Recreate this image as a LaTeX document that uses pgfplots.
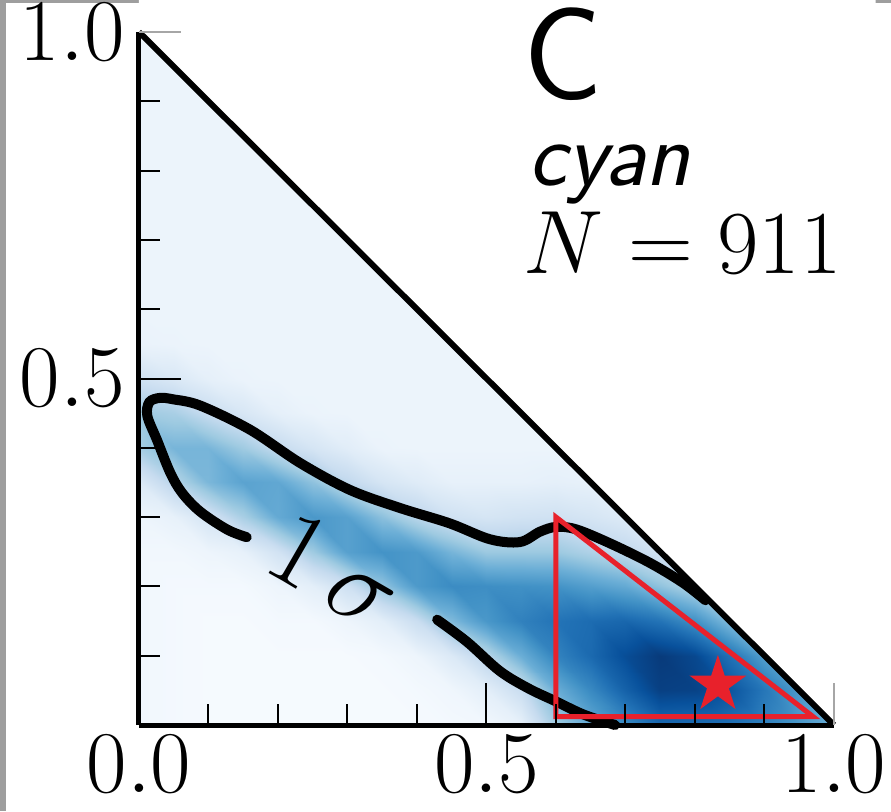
\RequirePackage{fix-cm}
\documentclass[border=0pt]{standalone}
\usepackage{pgfplots}
\pgfplotsset{compat=1.18}
\definecolor{bord}{RGB}{158,158,158}
\definecolor{myred}{RGB}{232,33,43}
\pgfdeclareplotmark{fstar}{%
 \pgfpathmoveto{\pgfpointpolar{90}{\pgfplotmarksize}}%
 \pgfpathlineto{\pgfpointpolar{126}{0.382\pgfplotmarksize}}%
 \pgfpathlineto{\pgfpointpolar{162}{\pgfplotmarksize}}%
 \pgfpathlineto{\pgfpointpolar{198}{0.382\pgfplotmarksize}}%
 \pgfpathlineto{\pgfpointpolar{234}{\pgfplotmarksize}}%
 \pgfpathlineto{\pgfpointpolar{270}{0.382\pgfplotmarksize}}%
 \pgfpathlineto{\pgfpointpolar{306}{\pgfplotmarksize}}%
 \pgfpathlineto{\pgfpointpolar{342}{0.382\pgfplotmarksize}}%
 \pgfpathlineto{\pgfpointpolar{18}{\pgfplotmarksize}}%
 \pgfpathlineto{\pgfpointpolar{54}{0.382\pgfplotmarksize}}%
 \pgfpathclose
 \pgfusepathqfill
}
\begin{document}
\begin{tikzpicture}
\useasboundingbox (-69.5pt,-43pt) rectangle (376pt,362.5pt);
\fill[bord] (-69.5pt,-43pt) rectangle (376pt,362.5pt);
\fill[white] (-66.5pt,-43pt) rectangle (376pt,361pt);
\begin{axis}[
  at={(0,0)}, anchor=south west,
  scale only axis, width=347.5pt, height=346.5pt,
  xmin=0, xmax=1, ymin=0, ymax=1,
  axis lines*=left,
  axis line style={line width=2.5pt, black},
  axis on top,
  clip=false,
  tick align=inside,
  xtick={0,0.5}, xticklabels={$0.0$,$0.5$},
  ytick={0.5}, yticklabels={$0.5$},
  extra x ticks={1}, extra x tick labels={$1.0$},
  extra y ticks={1}, extra y tick labels={$1.0$},
  extra x tick style={major tick style={draw=black!35, line width=0.6pt}},
  extra y tick style={major tick style={draw=black!35, line width=0.6pt}},
  minor xtick={0.1,0.2,0.3,0.4,0.6,0.7,0.8,0.9},
  minor ytick={0.1,0.2,0.3,0.4,0.6,0.7,0.8,0.9},
  major tick length=21pt, minor tick length=10.5pt,
  tick style={black, line width=1pt},
  every tick label/.append style={font=\fontsize{44}{50}\selectfont, inner sep=0pt},
  xticklabel style={yshift=-5pt},
  yticklabel style={xshift=-7pt},
  colormap={blues}{rgb255(0)=(247,251,255) rgb255(1)=(222,235,247) rgb255(2)=(198,219,239) rgb255(3)=(158,202,225) rgb255(4)=(107,174,214) rgb255(5)=(66,146,198) rgb255(6)=(33,113,181) rgb255(7)=(8,81,156) rgb255(8)=(8,48,107)},
  point meta min=0, point meta max=1,
]
\addplot[surf, shader=interp, mesh/rows=21, mesh/cols=21, mesh/ordering=y varies, point meta=explicit]
 table[row sep=\\, x=x, y=y, meta=v] {
x y v\\
0 0 .03\\ 0 0.05 .03\\ 0 0.1 .03\\ 0 0.15 .03\\ 0 0.2 .03\\ 0 0.25 .03\\ 0 0.3 .05\\ 0 0.35 .14\\ 0 0.4 .35\\ 0 0.45 .37\\ 0 0.5 .20\\ 0 0.55 .07\\ 0 0.6 .055\\ 0 0.65 .055\\ 0 0.7 .055\\ 0 0.75 .055\\ 0 0.8 .055\\ 0 0.85 .055\\ 0 0.9 .055\\ 0 0.95 .055\\ 0 1 .055\\
0.05 0 .02\\ 0.05 0.05 .02\\ 0.05 0.1 .02\\ 0.05 0.15 .02\\ 0.05 0.2 .02\\ 0.05 0.25 .03\\ 0.05 0.3 .08\\ 0.05 0.35 .30\\ 0.05 0.4 .47\\ 0.05 0.45 .34\\ 0.05 0.5 .15\\ 0.05 0.55 .06\\ 0.05 0.6 .055\\ 0.05 0.65 .055\\ 0.05 0.7 .055\\ 0.05 0.75 .055\\ 0.05 0.8 .055\\ 0.05 0.85 .055\\ 0.05 0.9 .055\\ 0.05 0.95 .055\\ 0.05 1 .055\\
0.1 0 .01\\ 0.1 0.05 .01\\ 0.1 0.1 .01\\ 0.1 0.15 .01\\ 0.1 0.2 .02\\ 0.1 0.25 .05\\ 0.1 0.3 .18\\ 0.1 0.35 .46\\ 0.1 0.4 .47\\ 0.1 0.45 .24\\ 0.1 0.5 .09\\ 0.1 0.55 .055\\ 0.1 0.6 .055\\ 0.1 0.65 .055\\ 0.1 0.7 .055\\ 0.1 0.75 .055\\ 0.1 0.8 .055\\ 0.1 0.85 .055\\ 0.1 0.9 .055\\ 0.1 0.95 .055\\ 0.1 1 .055\\
0.15 0 .01\\ 0.15 0.05 .01\\ 0.15 0.1 .01\\ 0.15 0.15 .01\\ 0.15 0.2 .02\\ 0.15 0.25 .08\\ 0.15 0.3 .34\\ 0.15 0.35 .55\\ 0.15 0.4 .37\\ 0.15 0.45 .16\\ 0.15 0.5 .06\\ 0.15 0.55 .055\\ 0.15 0.6 .055\\ 0.15 0.65 .055\\ 0.15 0.7 .055\\ 0.15 0.75 .055\\ 0.15 0.8 .055\\ 0.15 0.85 .055\\ 0.15 0.9 .055\\ 0.15 0.95 .055\\ 0.15 1 .055\\
0.2 0 .01\\ 0.2 0.05 .01\\ 0.2 0.1 .01\\ 0.2 0.15 .02\\ 0.2 0.2 .05\\ 0.2 0.25 .19\\ 0.2 0.3 .52\\ 0.2 0.35 .53\\ 0.2 0.4 .25\\ 0.2 0.45 .09\\ 0.2 0.5 .055\\ 0.2 0.55 .055\\ 0.2 0.6 .055\\ 0.2 0.65 .055\\ 0.2 0.7 .055\\ 0.2 0.75 .055\\ 0.2 0.8 .055\\ 0.2 0.85 .055\\ 0.2 0.9 .055\\ 0.2 0.95 .055\\ 0.2 1 .055\\
0.25 0 .01\\ 0.25 0.05 .01\\ 0.25 0.1 .01\\ 0.25 0.15 .02\\ 0.25 0.2 .10\\ 0.25 0.25 .37\\ 0.25 0.3 .60\\ 0.25 0.35 .41\\ 0.25 0.4 .17\\ 0.25 0.45 .06\\ 0.25 0.5 .055\\ 0.25 0.55 .055\\ 0.25 0.6 .055\\ 0.25 0.65 .055\\ 0.25 0.7 .055\\ 0.25 0.75 .055\\ 0.25 0.8 .055\\ 0.25 0.85 .055\\ 0.25 0.9 .055\\ 0.25 0.95 .055\\ 0.25 1 .055\\
0.3 0 .01\\ 0.3 0.05 .01\\ 0.3 0.1 .01\\ 0.3 0.15 .05\\ 0.3 0.2 .21\\ 0.3 0.25 .56\\ 0.3 0.3 .56\\ 0.3 0.35 .27\\ 0.3 0.4 .11\\ 0.3 0.45 .055\\ 0.3 0.5 .055\\ 0.3 0.55 .055\\ 0.3 0.6 .055\\ 0.3 0.65 .055\\ 0.3 0.7 .055\\ 0.3 0.75 .055\\ 0.3 0.8 .055\\ 0.3 0.85 .055\\ 0.3 0.9 .055\\ 0.3 0.95 .055\\ 0.3 1 .055\\
0.35 0 .01\\ 0.35 0.05 .01\\ 0.35 0.1 .02\\ 0.35 0.15 .10\\ 0.35 0.2 .40\\ 0.35 0.25 .62\\ 0.35 0.3 .42\\ 0.35 0.35 .17\\ 0.35 0.4 .06\\ 0.35 0.45 .055\\ 0.35 0.5 .055\\ 0.35 0.55 .055\\ 0.35 0.6 .055\\ 0.35 0.65 .055\\ 0.35 0.7 .055\\ 0.35 0.75 .055\\ 0.35 0.8 .055\\ 0.35 0.85 .055\\ 0.35 0.9 .055\\ 0.35 0.95 .055\\ 0.35 1 .055\\
0.4 0 .01\\ 0.4 0.05 .02\\ 0.4 0.1 .05\\ 0.4 0.15 .23\\ 0.4 0.2 .59\\ 0.4 0.25 .59\\ 0.4 0.3 .29\\ 0.4 0.35 .12\\ 0.4 0.4 .055\\ 0.4 0.45 .055\\ 0.4 0.5 .055\\ 0.4 0.55 .055\\ 0.4 0.6 .055\\ 0.4 0.65 .055\\ 0.4 0.7 .055\\ 0.4 0.75 .055\\ 0.4 0.8 .055\\ 0.4 0.85 .055\\ 0.4 0.9 .055\\ 0.4 0.95 .055\\ 0.4 1 .055\\
0.45 0 .02\\ 0.45 0.05 .04\\ 0.45 0.1 .14\\ 0.45 0.15 .45\\ 0.45 0.2 .65\\ 0.45 0.25 .47\\ 0.45 0.3 .20\\ 0.45 0.35 .08\\ 0.45 0.4 .055\\ 0.45 0.45 .055\\ 0.45 0.5 .055\\ 0.45 0.55 .055\\ 0.45 0.6 .055\\ 0.45 0.65 .055\\ 0.45 0.7 .055\\ 0.45 0.75 .055\\ 0.45 0.8 .055\\ 0.45 0.85 .055\\ 0.45 0.9 .055\\ 0.45 0.95 .055\\ 0.45 1 .055\\
0.5 0 .03\\ 0.5 0.05 .10\\ 0.5 0.1 .29\\ 0.5 0.15 .60\\ 0.5 0.2 .64\\ 0.5 0.25 .38\\ 0.5 0.3 .17\\ 0.5 0.35 .08\\ 0.5 0.4 .055\\ 0.5 0.45 .055\\ 0.5 0.5 .055\\ 0.5 0.55 .055\\ 0.5 0.6 .055\\ 0.5 0.65 .055\\ 0.5 0.7 .055\\ 0.5 0.75 .055\\ 0.5 0.8 .055\\ 0.5 0.85 .055\\ 0.5 0.9 .055\\ 0.5 0.95 .055\\ 0.5 1 .055\\
0.55 0 .08\\ 0.55 0.05 .23\\ 0.55 0.1 .50\\ 0.55 0.15 .69\\ 0.55 0.2 .63\\ 0.55 0.25 .38\\ 0.55 0.3 .19\\ 0.55 0.35 .08\\ 0.55 0.4 .055\\ 0.55 0.45 .055\\ 0.55 0.5 .055\\ 0.55 0.55 .055\\ 0.55 0.6 .055\\ 0.55 0.65 .055\\ 0.55 0.7 .055\\ 0.55 0.75 .055\\ 0.55 0.8 .055\\ 0.55 0.85 .055\\ 0.55 0.9 .055\\ 0.55 0.95 .055\\ 0.55 1 .055\\
0.6 0 .36\\ 0.6 0.05 .50\\ 0.6 0.1 .68\\ 0.6 0.15 .74\\ 0.6 0.2 .62\\ 0.6 0.25 .38\\ 0.6 0.3 .20\\ 0.6 0.35 .09\\ 0.6 0.4 .055\\ 0.6 0.45 .055\\ 0.6 0.5 .055\\ 0.6 0.55 .055\\ 0.6 0.6 .055\\ 0.6 0.65 .055\\ 0.6 0.7 .055\\ 0.6 0.75 .055\\ 0.6 0.8 .055\\ 0.6 0.85 .055\\ 0.6 0.9 .055\\ 0.6 0.95 .055\\ 0.6 1 .055\\
0.65 0 .52\\ 0.65 0.05 .66\\ 0.65 0.1 .78\\ 0.65 0.15 .77\\ 0.65 0.2 .57\\ 0.65 0.25 .32\\ 0.65 0.3 .17\\ 0.65 0.35 .08\\ 0.65 0.4 .055\\ 0.65 0.45 .055\\ 0.65 0.5 .055\\ 0.65 0.55 .055\\ 0.65 0.6 .055\\ 0.65 0.65 .055\\ 0.65 0.7 .055\\ 0.65 0.75 .055\\ 0.65 0.8 .055\\ 0.65 0.85 .055\\ 0.65 0.9 .055\\ 0.65 0.95 .055\\ 0.65 1 .055\\
0.7 0 .65\\ 0.7 0.05 .81\\ 0.7 0.1 .89\\ 0.7 0.15 .79\\ 0.7 0.2 .52\\ 0.7 0.25 .27\\ 0.7 0.3 .13\\ 0.7 0.35 .08\\ 0.7 0.4 .055\\ 0.7 0.45 .055\\ 0.7 0.5 .055\\ 0.7 0.55 .055\\ 0.7 0.6 .055\\ 0.7 0.65 .055\\ 0.7 0.7 .055\\ 0.7 0.75 .055\\ 0.7 0.8 .055\\ 0.7 0.85 .055\\ 0.7 0.9 .055\\ 0.7 0.95 .055\\ 0.7 1 .055\\
0.75 0 .78\\ 0.75 0.05 .94\\ 0.75 0.1 .96\\ 0.75 0.15 .74\\ 0.75 0.2 .41\\ 0.75 0.25 .19\\ 0.75 0.3 .10\\ 0.75 0.35 .06\\ 0.75 0.4 .055\\ 0.75 0.45 .055\\ 0.75 0.5 .055\\ 0.75 0.55 .055\\ 0.75 0.6 .055\\ 0.75 0.65 .055\\ 0.75 0.7 .055\\ 0.75 0.75 .055\\ 0.75 0.8 .055\\ 0.75 0.85 .055\\ 0.75 0.9 .055\\ 0.75 0.95 .055\\ 0.75 1 .055\\
0.8 0 .77\\ 0.8 0.05 .93\\ 0.8 0.1 .91\\ 0.8 0.15 .63\\ 0.8 0.2 .31\\ 0.8 0.25 .14\\ 0.8 0.3 .08\\ 0.8 0.35 .055\\ 0.8 0.4 .055\\ 0.8 0.45 .055\\ 0.8 0.5 .055\\ 0.8 0.55 .055\\ 0.8 0.6 .055\\ 0.8 0.65 .055\\ 0.8 0.7 .055\\ 0.8 0.75 .055\\ 0.8 0.8 .055\\ 0.8 0.85 .055\\ 0.8 0.9 .055\\ 0.8 0.95 .055\\ 0.8 1 .055\\
0.85 0 .75\\ 0.85 0.05 .86\\ 0.85 0.1 .75\\ 0.85 0.15 .44\\ 0.85 0.2 .20\\ 0.85 0.25 .09\\ 0.85 0.3 .055\\ 0.85 0.35 .055\\ 0.85 0.4 .055\\ 0.85 0.45 .055\\ 0.85 0.5 .055\\ 0.85 0.55 .055\\ 0.85 0.6 .055\\ 0.85 0.65 .055\\ 0.85 0.7 .055\\ 0.85 0.75 .055\\ 0.85 0.8 .055\\ 0.85 0.85 .055\\ 0.85 0.9 .055\\ 0.85 0.95 .055\\ 0.85 1 .055\\
0.9 0 .69\\ 0.9 0.05 .73\\ 0.9 0.1 .57\\ 0.9 0.15 .30\\ 0.9 0.2 .14\\ 0.9 0.25 .08\\ 0.9 0.3 .055\\ 0.9 0.35 .055\\ 0.9 0.4 .055\\ 0.9 0.45 .055\\ 0.9 0.5 .055\\ 0.9 0.55 .055\\ 0.9 0.6 .055\\ 0.9 0.65 .055\\ 0.9 0.7 .055\\ 0.9 0.75 .055\\ 0.9 0.8 .055\\ 0.9 0.85 .055\\ 0.9 0.9 .055\\ 0.9 0.95 .055\\ 0.9 1 .055\\
0.95 0 .60\\ 0.95 0.05 .59\\ 0.95 0.1 .42\\ 0.95 0.15 .21\\ 0.95 0.2 .10\\ 0.95 0.25 .055\\ 0.95 0.3 .055\\ 0.95 0.35 .055\\ 0.95 0.4 .055\\ 0.95 0.45 .055\\ 0.95 0.5 .055\\ 0.95 0.55 .055\\ 0.95 0.6 .055\\ 0.95 0.65 .055\\ 0.95 0.7 .055\\ 0.95 0.75 .055\\ 0.95 0.8 .055\\ 0.95 0.85 .055\\ 0.95 0.9 .055\\ 0.95 0.95 .055\\ 0.95 1 .055\\
1 0 .50\\ 1 0.05 .46\\ 1 0.1 .29\\ 1 0.15 .15\\ 1 0.2 .08\\ 1 0.25 .055\\ 1 0.3 .055\\ 1 0.35 .055\\ 1 0.4 .055\\ 1 0.45 .055\\ 1 0.5 .055\\ 1 0.55 .055\\ 1 0.6 .055\\ 1 0.65 .055\\ 1 0.7 .055\\ 1 0.75 .055\\ 1 0.8 .055\\ 1 0.85 .055\\ 1 0.9 .055\\ 1 0.95 .055\\ 1 1 .055\\
};
% white area above the hypotenuse
\fill[white] (axis cs:0,1) -- (axis cs:1,0) -- (axis cs:1.06,0) -- (axis cs:1.06,1.06) -- (axis cs:0,1.06) -- cycle;
% hypotenuse
\addplot[black, line width=3pt, mark=none] coordinates {(0,1) (1,0)};
% 1 sigma contour
\addplot[black, line width=5pt, mark=none, smooth, tension=0.55, line cap=round] coordinates {
(0.155,0.271) (0.127,0.282) (0.088,0.308) (0.062,0.335) (0.045,0.364) (0.026,0.411)
(0.012,0.446) (0.015,0.466) (0.030,0.472) (0.049,0.470) (0.088,0.461) (0.160,0.426)
(0.232,0.378) (0.304,0.339) (0.376,0.313) (0.447,0.291) (0.505,0.268) (0.548,0.264)
(0.577,0.279) (0.601,0.286) (0.630,0.282) (0.678,0.262) (0.735,0.234) (0.783,0.205) (0.815,0.180)};
\addplot[black, line width=5pt, mark=none, smooth, tension=0.55, line cap=round] coordinates {
(0.429,0.152) (0.472,0.120) (0.519,0.078) (0.560,0.053) (0.600,0.034) (0.640,0.015) (0.685,0.0)};
\node[rotate=-30, inner sep=0pt, font=\fontsize{54}{60}\selectfont] at (axis cs:0.282,0.222) {$1\,\sigma$};
% red triangle and star
\addplot[myred, line width=2.5pt, mark=none, line join=miter] coordinates {(0.6,0.3) (0.6,0.012) (0.97,0.012)} -- cycle;
\addplot[only marks, mark=fstar, mark size=15pt, myred, fill=myred] coordinates {(0.833,0.058)};
% annotations
\node[inner sep=0pt, anchor=base west, font=\fontsize{66}{72}\selectfont\sffamily] at (axis cs:0.553,0.902) {C};
\node[inner sep=0pt, anchor=base west, font=\fontsize{46}{52}\selectfont\sffamily\itshape] at (axis cs:0.560,0.779) {cyan};
\node[inner sep=0pt, anchor=base west, font=\fontsize{45}{50}\selectfont] at (axis cs:0.552,0.652) {$N = 911$};
\end{axis}
\end{tikzpicture}
\end{document}
